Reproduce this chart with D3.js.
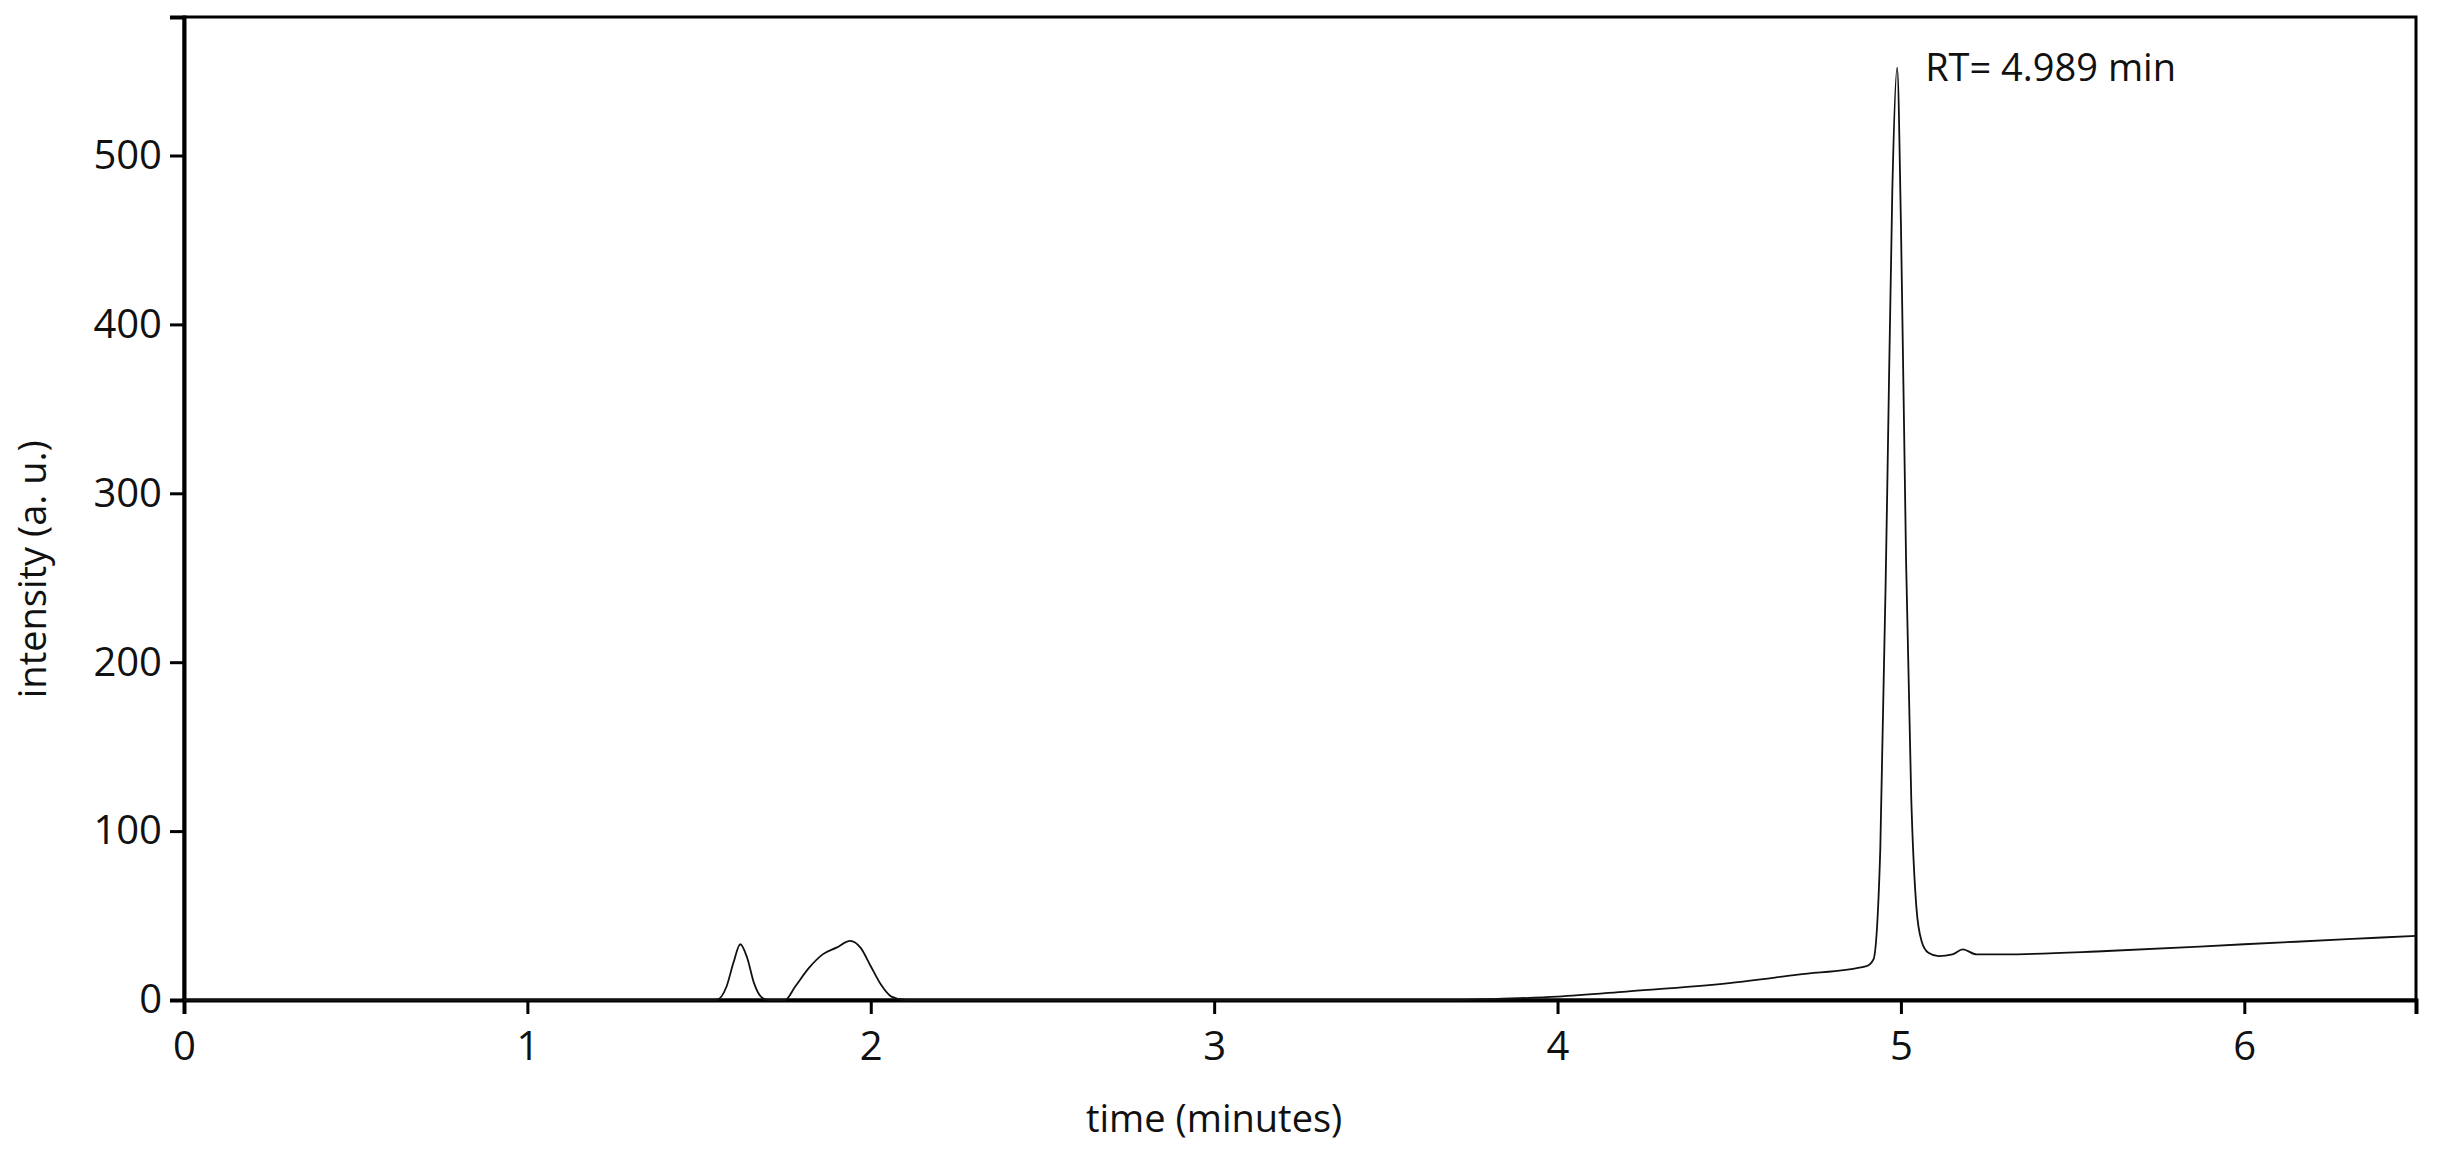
<!DOCTYPE html>
<html>
<head>
<meta charset="utf-8">
<script src="https://cdn.jsdelivr.net/npm/d3@7"></script>
<style>
  body { margin: 0; background: #fff; }
  text { font-family: "Open Sans", sans-serif; fill: #111; }
</style>
</head>
<body>
<script>
// Chromatogram data
const times = [0, 1.50, 1.55, 1.58, 1.60, 1.62, 1.64, 1.66, 1.68, 1.70, 1.75, 1.78, 1.82, 1.86, 1.90, 1.94, 1.97, 2.00, 2.03, 2.06, 2.10, 3.70, 3.80, 4.00, 4.20, 4.50, 4.70, 4.90, 4.92, 4.94, 4.96, 4.975, 4.989, 5.00, 5.015, 5.03, 5.045, 5.06, 5.08, 5.11, 5.15, 5.18, 5.22, 5.30, 5.60, 6.00, 6.30, 6.50];
const intensity = [0, 0, 0, 8, 22, 33, 25, 10, 2, 0, 0, 8, 19, 27, 31, 35, 31, 20, 9, 2, 0, 0, 0.5, 2, 5, 10, 15, 20, 24, 90, 300, 480, 552, 460, 260, 120, 55, 35, 28, 26, 27, 30, 27, 27, 29, 33, 36, 38];
const xTicks = [0, 1, 2, 3, 4, 5, 6];
const yTicks = [0, 100, 200, 300, 400, 500];
const annotation = { x: 4.989, text: "RT= 4.989 min" };

const width = 2438, height = 1157;
const margin = { top: 17, right: 22, bottom: 157, left: 184 };
const innerW = width - margin.left - margin.right;
const innerH = height - margin.top - margin.bottom;

const svg = d3.select("body").append("svg")
  .attr("width", width).attr("height", height);
const g = svg.append("g").attr("transform", `translate(${margin.left},${margin.top})`);

const x = d3.scaleLinear().domain([0, 6.5]).range([0, innerW]);
const y = d3.scaleLinear().domain([0, 582]).range([innerH, 0]);

// frame
g.append("rect").attr("width", innerW).attr("height", innerH)
  .attr("fill", "none").attr("stroke", "#000").attr("stroke-width", 3);

const xAxis = g.append("g").attr("transform", `translate(0,${innerH})`)
  .call(d3.axisBottom(x).tickValues(xTicks).tickSize(14).tickPadding(18).tickFormat(d3.format("d")));
const yAxis = g.append("g")
  .call(d3.axisLeft(y).tickValues(yTicks).tickSize(14).tickPadding(8).tickFormat(d3.format("d")));
[xAxis, yAxis].forEach(a => {
  a.select(".domain").attr("stroke-width", 4);
  a.selectAll(".tick line").attr("stroke-width", 3);
  a.selectAll("text").attr("font-size", 40).attr("font-family", "Open Sans, sans-serif");
});

const line = d3.line().x((d, i) => x(times[i])).y(d => y(d)).curve(d3.curveMonotoneX);
g.append("path").datum(intensity).attr("d", line)
  .attr("fill", "none").attr("stroke", "#111").attr("stroke-width", 1.8);

g.append("text").attr("x", x(annotation.x) + 28).attr("y", 64)
  .attr("font-size", 38).text(annotation.text);

svg.append("text").attr("x", margin.left + x(3.0)).attr("y", 1132)
  .attr("text-anchor", "middle").attr("font-size", 38).text("time (minutes)");
svg.append("text").attr("transform", `translate(46,${margin.top + y(255)}) rotate(-90)`)
  .attr("text-anchor", "middle").attr("font-size", 38).text("intensity (a. u.)");
</script>
</body>
</html>
